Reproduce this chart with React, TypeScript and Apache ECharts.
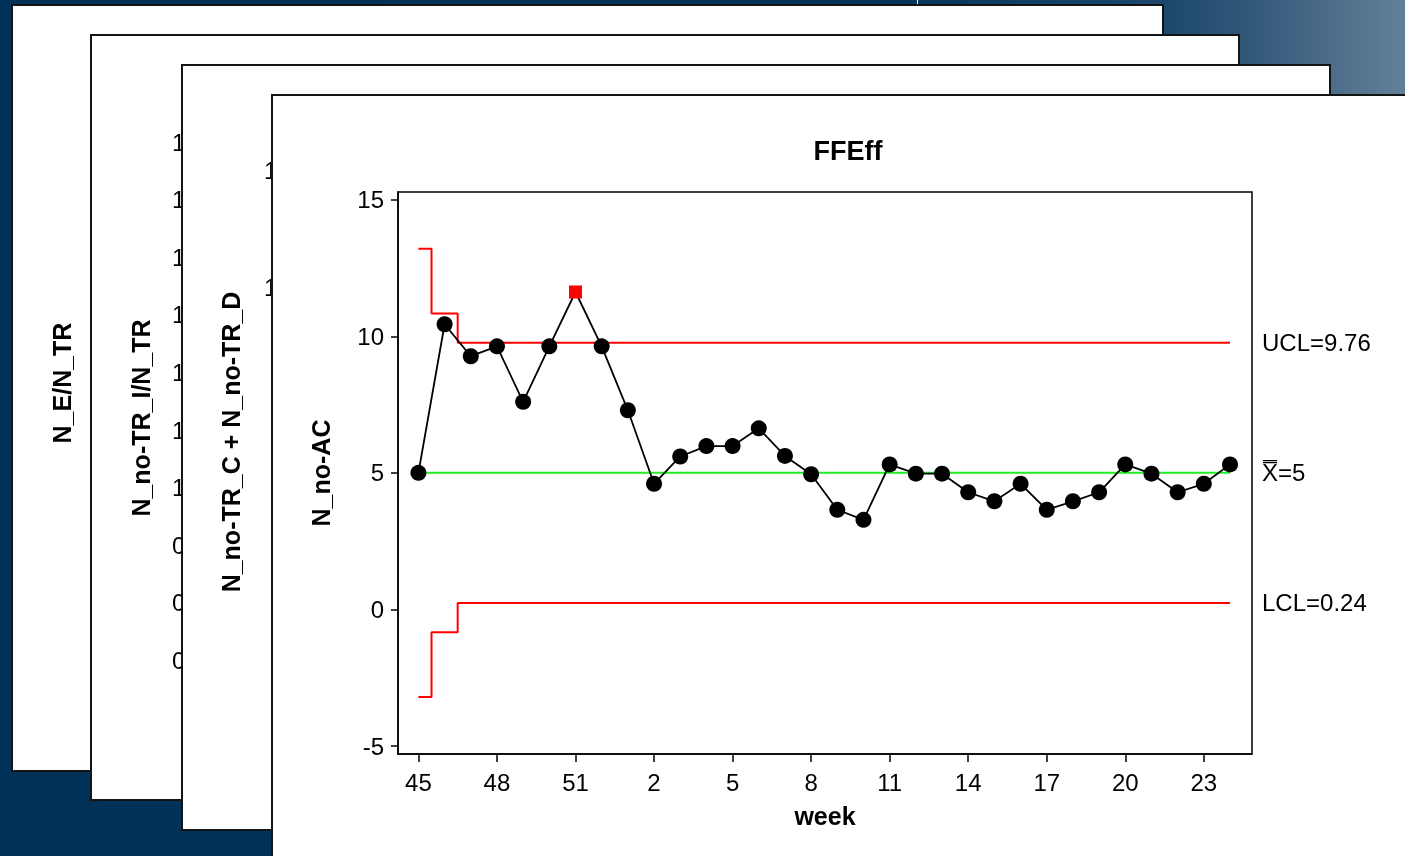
import React, { useEffect, useRef } from "react";
import * as echarts from "echarts";

const FONT = '"Liberation Sans", Arial, Helvetica, sans-serif';

// ---- data ----
const weeks = [
  "45", "46", "47", "48", "49", "50", "51", "52",
  "1", "2", "3", "4", "5", "6", "7", "8", "9", "10", "11", "12",
  "13", "14", "15", "16", "17", "18", "19", "20", "21", "22", "23", "24",
];
const nNoAC = [
  5.0, 10.44, 9.27, 9.63, 7.6, 9.63, 11.62, 9.63,
  7.29, 4.6, 5.6, 5.98, 5.98, 6.63, 5.62, 4.95, 3.65, 3.28, 5.31, 4.97,
  4.97, 4.29, 3.96, 4.6, 3.65, 3.96, 4.29, 5.31, 4.97, 4.29, 4.6, 5.31,
];
const ucl = [
  13.2, 10.83, 9.76, 9.76, 9.76, 9.76, 9.76, 9.76,
  9.76, 9.76, 9.76, 9.76, 9.76, 9.76, 9.76, 9.76, 9.76, 9.76, 9.76, 9.76,
  9.76, 9.76, 9.76, 9.76, 9.76, 9.76, 9.76, 9.76, 9.76, 9.76, 9.76, 9.76,
];
const center = [
  5, 5, 5, 5, 5, 5, 5, 5, 5, 5, 5, 5, 5, 5, 5, 5,
  5, 5, 5, 5, 5, 5, 5, 5, 5, 5, 5, 5, 5, 5, 5, 5,
];
const lcl = [
  -3.2, -0.83, 0.24, 0.24, 0.24, 0.24, 0.24, 0.24,
  0.24, 0.24, 0.24, 0.24, 0.24, 0.24, 0.24, 0.24, 0.24, 0.24, 0.24, 0.24,
  0.24, 0.24, 0.24, 0.24, 0.24, 0.24, 0.24, 0.24, 0.24, 0.24, 0.24, 0.24,
];
const xTickIdx = [0, 3, 6, 9, 12, 15, 18, 21, 24, 27, 30];
const yTicks = [-5, 0, 5, 10, 15];
const uclLabel = "UCL=9.76";
const centerLabel = "X\u033F=5";
const lclLabel = "LCL=0.24";
const card2Ticks = ["1.6", "1.5", "1.4", "1.3", "1.2", "1.1", "1.0", "0.9", "0.8", "0.7"];
const card3Ticks = ["15", "10"];

export default function App() {
  const ref = useRef<HTMLDivElement>(null);

  useEffect(() => {
    if (!ref.current) return;
    const chart = echarts.init(ref.current, null, { renderer: "svg" });

    let z2 = 0;
    const bg = (el: any) => ({ ...el, z: -1, z2: z2++, silent: true });
    const card = (x: number, y: number, w: number, h: number) =>
      bg({
        type: "rect",
        shape: { x, y, width: w, height: h },
        style: { fill: "#ffffff", stroke: "#141414", lineWidth: 2 },
      });
    const vText = (text: string, x: number, y: number) =>
      bg({
        type: "text",
        x,
        y,
        rotation: Math.PI / 2,
        style: {
          text,
          fill: "#000",
          font: `bold 25px ${FONT}`,
          align: "center",
          verticalAlign: "middle",
        },
      });
    const tickText = (text: string, x: number, y: number) =>
      bg({
        type: "text",
        x,
        y,
        style: {
          text,
          fill: "#000",
          font: `24px ${FONT}`,
          align: "left",
          verticalAlign: "middle",
        },
      });

    const elements: any[] = [];
    elements.push(
      bg({
        type: "rect",
        shape: { x: 0, y: 0, width: 1405, height: 856 },
        style: {
          fill: {
            type: "linear",
            x: 0, y: 0, x2: 1, y2: 0,
            colorStops: [
              { offset: 0, color: "#023157" },
              { offset: 0.62, color: "#043359" },
              { offset: 0.83, color: "#1d486c" },
              { offset: 0.88, color: "#2f5678" },
              { offset: 0.947, color: "#4b6c88" },
              { offset: 1, color: "#62809a" },
            ],
          },
        },
      })
    );
    elements.push(
      bg({
        type: "line",
        shape: { x1: 917.5, y1: 0, x2: 917.5, y2: 5 },
        style: { stroke: "#ffffff", lineWidth: 1 },
      })
    );
    elements.push(card(12, 5, 1151, 766));
    elements.push(vText("N_E/N_TR", 62, 383));
    elements.push(card(91, 35, 1148, 765));
    card2Ticks.forEach((t, i) => elements.push(tickText(t, 172, 142 + i * 57.6)));
    elements.push(vText("N_no-TR_I/N_TR", 141, 418));
    elements.push(card(182, 65, 1148, 765));
    card3Ticks.forEach((t, i) => elements.push(tickText(t, 264, 170 + i * 117)));
    elements.push(vText("N_no-TR_C + N_no-TR_D", 231, 442));
    elements.push(card(272, 95, 1200, 800));

    const lineSeries = (name: string, data: number[], color: string, label: string, step: any) => ({
      type: "line",
      name,
      data: data.map((v, i) => [i, v]),
      step,
      symbol: "none",
      lineStyle: { color, width: 2 },
      z: 2,
      endLabel: {
        show: true,
        formatter: label,
        distance: 32,
        color: "#000",
        fontSize: 24,
        fontFamily: FONT,
      },
    });

    chart.setOption({
      animation: false,
      title: {
        text: "FFEff",
        left: 843,
        top: 132,
        textAlign: "center",
        textStyle: { fontSize: 27, fontWeight: "bold", fontFamily: FONT, color: "#000" },
      },
      graphic: { elements },
      grid: {
        left: 398,
        top: 192,
        right: 153,
        bottom: 102,
        show: true,
        borderColor: "#000",
        borderWidth: 1.5,
        backgroundColor: "transparent",
      },
      xAxis: {
        type: "value",
        min: -0.78,
        max: 31.84,
        name: "week",
        nameLocation: "middle",
        nameGap: 49,
        nameTextStyle: { fontSize: 25, fontWeight: "bold", fontFamily: FONT, color: "#000" },
        axisLine: { show: true, onZero: false, lineStyle: { color: "#000", width: 1.5 } },
        axisTick: { show: true, length: 8, customValues: xTickIdx, lineStyle: { color: "#000", width: 1.5 } },
        axisLabel: {
          customValues: xTickIdx,
          formatter: (v: number) => weeks[Math.round(v)] ?? "",
          fontSize: 24,
          fontFamily: FONT,
          color: "#000",
          margin: 16,
        },
        splitLine: { show: false },
      },
      yAxis: {
        type: "value",
        min: -5.29,
        max: 15.28,
        name: "N_no-AC",
        nameLocation: "middle",
        nameGap: 65,
        nameRotate: 90,
        nameTextStyle: { fontSize: 25, fontWeight: "bold", fontFamily: FONT, color: "#000" },
        axisLine: { show: true, onZero: false, lineStyle: { color: "#000", width: 1.5 } },
        axisTick: { show: true, length: 7, customValues: yTicks, lineStyle: { color: "#000", width: 1.5 } },
        axisLabel: {
          customValues: yTicks,
          fontSize: 24,
          fontFamily: FONT,
          color: "#000",
          margin: 14,
        },
        splitLine: { show: false },
      },
      series: [
        lineSeries("UCL", ucl, "#ff0000", uclLabel, "middle"),
        lineSeries("Center", center, "#22ee22", centerLabel, false),
        lineSeries("LCL", lcl, "#ff0000", lclLabel, "middle"),
        {
          type: "line",
          name: "N_no-AC",
          z: 3,
          data: nNoAC.map((v, i) => {
            const out = v > ucl[i] || v < lcl[i];
            return out
              ? { value: [i, v], symbol: "rect", symbolSize: 13, itemStyle: { color: "#ff0000" } }
              : { value: [i, v] };
          }),
          symbol: "circle",
          symbolSize: 16,
          itemStyle: { color: "#000" },
          lineStyle: { color: "#000", width: 1.8 },
        },
      ],
    });

    return () => chart.dispose();
  }, []);

  return (
    <div
      ref={ref}
      style={{ position: "fixed", left: 0, top: 0, width: 1405, height: 856 }}
    />
  );
}
